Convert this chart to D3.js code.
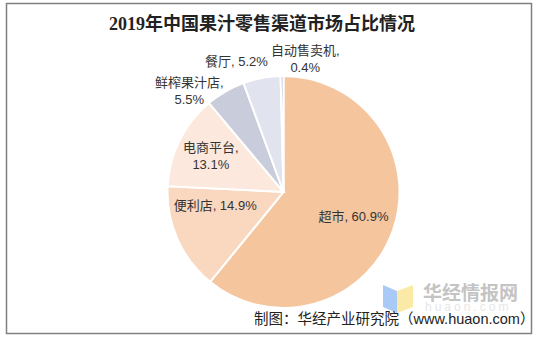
<!DOCTYPE html>
<html>
<head>
<meta charset="utf-8">
<script src="https://cdn.jsdelivr.net/npm/d3@7"></script>
<style>
  body { margin: 0; background: #fff; }
  svg text { font-family: "Liberation Sans", "Noto Sans CJK SC", sans-serif; }
  .title { font-family: "Liberation Serif", "Noto Sans CJK SC", serif; font-weight: bold; }
</style>
</head>
<body>
<div id="chart"></div>
<script>
// data
const channels = ["超市", "便利店", "电商平台", "鲜榨果汁店", "餐厅", "自动售卖机"];
const shares = [60.9, 14.9, 13.1, 5.5, 5.2, 0.4];
const colors = ["#F5C59E", "#F9D8BF", "#FCE8DC", "#C9CCDA", "#E1E4EE", "#B4BED6"];

const width = 538, height = 338;
const cx = 283.5, cy = 192, radius = 116;

const svg = d3.select("#chart").append("svg")
    .attr("width", width)
    .attr("height", height);

// outer frame
svg.append("rect")
    .attr("x", 6.5).attr("y", 3.5)
    .attr("width", 525).attr("height", 330)
    .attr("fill", "none")
    .attr("stroke", "#808080")
    .attr("stroke-width", 1.5);

svg.append("text")
    .attr("class", "title")
    .attr("x", 262).attr("y", 30)
    .attr("text-anchor", "middle")
    .attr("font-size", 18)
    .attr("fill", "#222")
    .text("2019年中国果汁零售渠道市场占比情况");

const pie = d3.pie().sort(null).value(d => d.v);
const slices = pie(channels.map((c, i) => ({ name: c, v: shares[i], color: colors[i] })));

const arc = d3.arc().innerRadius(0).outerRadius(radius);

const g = svg.append("g").attr("transform", `translate(${cx},${cy})`);

g.selectAll("path").data(slices).enter().append("path")
    .attr("d", arc)
    .attr("fill", d => d.data.color)
    .attr("stroke", "#fff")
    .attr("stroke-width", 2);

// label placement: radius factor + angle nudge (deg) per slice, like excel's best fit
const labelFit = [
    { r: 0.64, a: 0, lines: 1 },
    { r: 0.6, a: 13, lines: 1 },
    { r: 0.7, a: 0, lines: 2 },
    { r: 1.19, a: -13, lines: 2 },
    { r: 1.2, a: -9, lines: 1 },
    { r: 1.16, a: 10, lines: 2 }
];

slices.forEach((d, i) => {
    const fit = labelFit[i];
    const ang = (d.startAngle + d.endAngle) / 2 + fit.a * Math.PI / 180;
    const r = radius * fit.r;
    const x = Math.sin(ang) * r, y = -Math.cos(ang) * r;
    const t = g.append("text")
        .attr("text-anchor", "middle")
        .attr("font-size", 13)
        .attr("fill", "#333");
    const pct = d.data.v.toFixed(1) + "%";
    if (fit.lines === 1) {
        t.append("tspan").attr("x", x).attr("y", y + 4.5).text(d.data.name + ", " + pct);
    } else {
        t.append("tspan").attr("x", x).attr("y", y - 4).text(d.data.name + ",");
        t.append("tspan").attr("x", x).attr("y", y + 13).text(pct);
    }
});

// watermark
const wm = svg.append("g").attr("transform", "translate(383,283)");
wm.append("path").attr("d", "M0,2 L14,8 L14,30 L0,24 Z").attr("fill", "#A9C9F7");
wm.append("path").attr("d", "M14,8 L30,2 L30,24 L14,30 Z").attr("fill", "#FBEAA6");
svg.append("text")
    .attr("x", 423).attr("y", 300)
    .attr("font-size", 19).attr("font-weight", "bold")
    .attr("fill", "#C4C4C4")
    .style("font-family", "'Noto Sans CJK SC', sans-serif")
    .text("华经情报网");
svg.append("text")
    .attr("x", 425).attr("y", 311)
    .attr("font-size", 12)
    .attr("letter-spacing", 3)
    .attr("fill", "#E6E6E6")
    .text("huaon.com");

svg.append("text")
    .attr("x", 254).attr("y", 324)
    .attr("font-size", 14.5)
    .attr("fill", "#222")
    .text("制图：华经产业研究院（www.huaon.com）");
</script>
</body>
</html>
